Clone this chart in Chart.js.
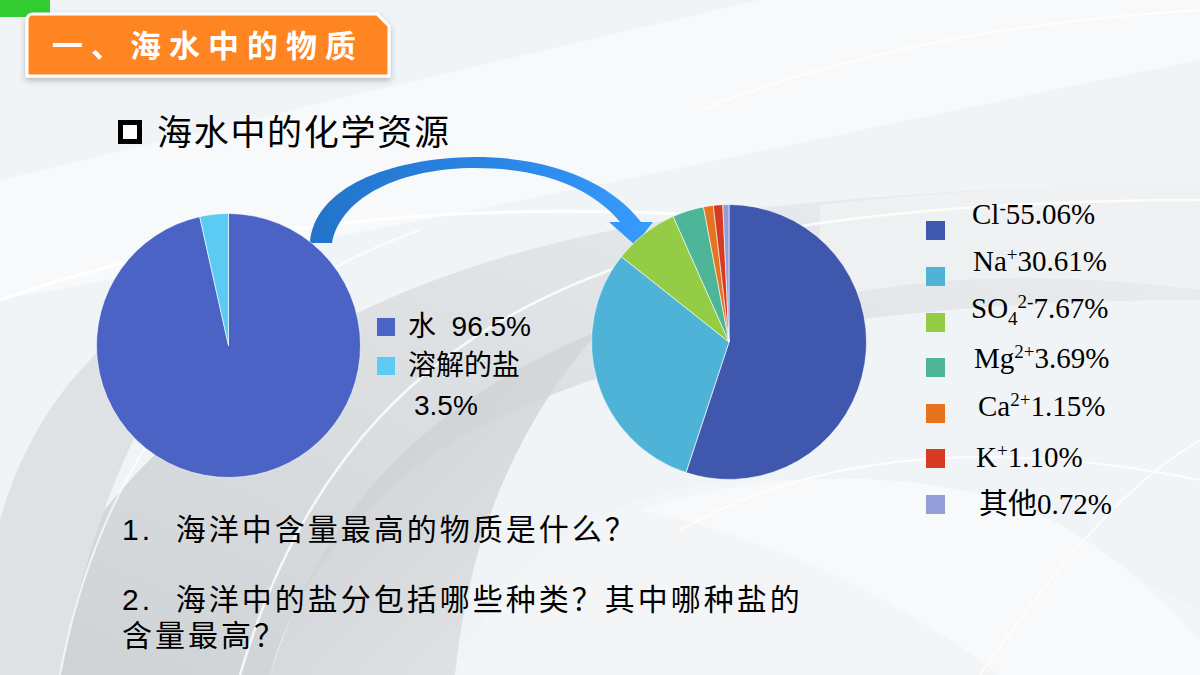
<!DOCTYPE html>
<html>
<head>
<meta charset="utf-8">
<script src="https://cdn.jsdelivr.net/npm/chart.js@4"></script>
<style>
  html, body { margin: 0; padding: 0; }
  body { width: 1200px; height: 675px; position: relative; overflow: hidden; background: #eef1f3;
         font-family: "Liberation Sans", "Noto Sans CJK SC", sans-serif; color: #000; }
  #bg { position: absolute; left: 0; top: 0; }
  .abs { position: absolute; white-space: nowrap; }
  #boxTitle { left: 52px; top: 22px; color: #fff; font: bold 31px "Noto Sans CJK SC"; letter-spacing: 8px; line-height: 44px; }
  #bullet { left: 118px; top: 120px; width: 14px; height: 14px; border: 5px solid #000; background: #fff; }
  #heading { left: 157px; top: 108px; font: 35px "Noto Sans CJK SC"; line-height: 44px; letter-spacing: 1.7px; }
  .q { font-size: 30px; line-height: 36px; letter-spacing: 3px; }
  .sw { position: absolute; width: 19px; height: 19px; }
  .lt { position: absolute; white-space: nowrap; font-size: 28px; line-height: 28px; }
  .rt { position: absolute; white-space: nowrap; font: 29px "Liberation Serif", "Noto Sans CJK SC", serif; line-height: 29px; }
  .rt sup { font-size: 19px; vertical-align: 10px; line-height: 0; }
  .rt sub { font-size: 19px; vertical-align: -7px; line-height: 0; }
  canvas { position: absolute; }
</style>
</head>
<body>
<svg id="bg" width="1200" height="675">
  <defs>
    <linearGradient id="gA" x1="0" y1="1" x2="1" y2="0">
      <stop offset="0" stop-color="#cfd2d5"/>
      <stop offset="0.5" stop-color="#dde0e3"/>
      <stop offset="1" stop-color="#eceef0"/>
    </linearGradient>
    <linearGradient id="gB" x1="0" y1="0" x2="1" y2="1">
      <stop offset="0" stop-color="#c4c7ca"/>
      <stop offset="1" stop-color="#e2e4e6"/>
    </linearGradient>
    <linearGradient id="gArrow" x1="0" y1="0" x2="1" y2="0">
      <stop offset="0" stop-color="#2373c9"/>
      <stop offset="0.55" stop-color="#2a86e6"/>
      <stop offset="1" stop-color="#379cff"/>
    </linearGradient>
    <filter id="sh" x="-10%" y="-10%" width="120%" height="140%">
      <feDropShadow dx="0" dy="3" stdDeviation="3" flood-color="#000" flood-opacity="0.25"/>
    </filter>
  </defs>
  <rect width="1200" height="675" fill="#f1f4f6"/>
  <path d="M0,180 C250,120 500,60 760,0 L1200,0 L1200,60 C900,120 600,190 0,300 Z" fill="#f7f9fa"/>
  <path d="M0,675 C120,430 320,270 700,215 C900,190 1080,185 1200,182 L1200,300 C920,300 640,330 440,450 C340,520 290,600 270,675 Z" fill="url(#gA)"/>
  <path d="M0,520 C40,380 140,280 330,235 C200,300 110,420 60,675 L0,675 Z" fill="#dfe2e5"/>
  <path d="M270,675 C320,520 410,410 600,330 C520,420 470,530 455,675 Z" fill="url(#gB)" opacity="0.85"/>
  <path d="M455,675 C520,520 660,470 820,480 C980,490 1100,560 1200,610 L1200,675 Z" fill="#f3f5f7"/>
  <path d="M640,510 C760,470 900,470 1000,500 C1100,530 1160,600 1200,640 L1200,675 L1000,675 C900,600 780,540 640,510 Z" fill="#ffffff" opacity="0.45"/>
  <path d="M820,300 C950,270 1080,275 1200,290 L1200,182 C1080,185 950,190 820,205 Z" fill="#f0f2f4" opacity="0.8"/>
  <path d="M0,300 C200,230 420,200 700,215" stroke="#ffffff" stroke-width="3" fill="none" opacity="0.9"/>
  <path d="M240,675 C300,470 420,330 640,260 C800,215 1000,200 1200,200" stroke="#ffffff" stroke-width="2.5" fill="none" opacity="0.8"/>
  <path d="M60,675 C100,460 220,300 420,230" stroke="#ffffff" stroke-width="2" fill="none" opacity="0.7"/>
  <path d="M700,110 C880,40 1050,20 1200,10" stroke="#ffffff" stroke-width="2" fill="none" opacity="0.8"/>
  <path d="M680,530 C820,450 1000,440 1200,480" stroke="#ffffff" stroke-width="2" fill="none" opacity="0.8"/>
  <path d="M980,675 C1060,560 1130,480 1200,440" stroke="#ffffff" stroke-width="2" fill="none" opacity="0.7"/>
  <rect x="0" y="0" width="50" height="17" fill="#33cc33"/>
  <path d="M33,14 L377,14 L389,26 L389,76 L27,76 L27,20 Q27,14 33,14 Z" fill="#ff8420" stroke="#ffffff" stroke-width="3" filter="url(#sh)"/>
  <path d="M310,243 C314,188 388,158 475,157 C556,157 613,185 641,222 L653,222 L635,245 L609,222 L620,222 C594,190 545,168 475,168 C402,168 341,196 332,243 Z" fill="url(#gArrow)"/>
</svg>

<div class="abs" id="boxTitle">一、海水中的物质</div>
<div class="abs" id="bullet"></div>
<div class="abs" id="heading">海水中的化学资源</div>

<canvas id="waterPie" width="265" height="265" style="left:96px; top:213px;"></canvas>
<canvas id="saltPie" width="276" height="276" style="left:591px; top:204px;"></canvas>

<div id="leftLegend"></div>
<div id="rightLegend"></div>

<div class="abs q" style="left:122px; top:512px;">1.&nbsp;&nbsp;海洋中含量最高的物质是什么？</div>
<div class="abs q" style="left:122px; top:582px;">2.&nbsp;&nbsp;海洋中的盐分包括哪些种类？其中哪种盐的</div>
<div class="abs q" style="left:122px; top:618px;">含量最高？</div>

<script>
// seawater composition
var waterLabels = ['水', '溶解的盐'];
var waterValues = [96.5, 3.5];
var waterColors = ['#4b63c5', '#5bcbf4'];

// dissolved salt ions
var ionNames = ['Cl', 'Na', 'SO4', 'Mg', 'Ca', 'K', '其他'];
var ionCharges = ['-', '+', '2-', '2+', '2+', '+', ''];
var ionValues = [55.06, 30.61, 7.67, 3.69, 1.15, 1.10, 0.72];
var ionColors = ['#3f58ae', '#4fb3d8', '#94cd45', '#4db598', '#e6731d', '#d63a22', '#959dd9'];

function pieChart(id, labels, values, colors) {
    return new Chart(document.getElementById(id), {
        type: 'pie',
        data: {
            labels: labels,
            datasets: [{
                data: values,
                backgroundColor: colors,
                borderColor: 'rgba(255,255,255,0.6)',
                borderWidth: 1
            }]
        },
        options: {
            responsive: false,
            animation: false,
            layout: { padding: 0 },
            plugins: {
                legend: { display: false },
                tooltip: { enabled: false }
            }
        }
    });
}

pieChart('waterPie', waterLabels, waterValues, waterColors);
pieChart('saltPie', ionNames, ionValues, ionColors);

/*left legend: squares + text*/
var leftBox = document.getElementById('leftLegend');
var leftSwatchTop = [318, 357];
leftSwatchTop.forEach(function (t, i) {
    var s = document.createElement('div');
    s.className = 'sw';
    s.style.left = '377px';
    s.style.top = t + 'px';
    s.style.width = '18px';
    s.style.height = '18px';
    s.style.background = waterColors[i];
    leftBox.appendChild(s);
});
var leftText = [
    [408, 313, waterLabels[0] + '&nbsp;&nbsp;' + waterValues[0] + '%'],
    [408, 352, waterLabels[1]],
    [414, 392, waterValues[1] + '%']
];
leftText.forEach(function (r) {
    var d = document.createElement('div');
    d.className = 'lt';
    d.style.left = r[0] + 'px';
    d.style.top = r[1] + 'px';
    d.innerHTML = r[2];
    leftBox.appendChild(d);
});

/*right legend*/
var rightBox = document.getElementById('rightLegend');
var swatchTops = [221, 267, 313, 358, 404, 449, 495];
var textX = [972, 973, 971, 974, 978, 976, 979];
var baselines = [224, 271, 318, 368, 416, 467, 514];
ionNames.forEach(function (n, i) {
    var s = document.createElement('div');
    s.className = 'sw';
    s.style.left = '926px';
    s.style.top = swatchTops[i] + 'px';
    s.style.background = ionColors[i];
    rightBox.appendChild(s);

    var name = n.replace('4', '<sub>4</sub>');
    var charge = ionCharges[i] ? '<sup>' + ionCharges[i] + '</sup>' : '';
    var d = document.createElement('div');
    d.className = 'rt';
    d.style.left = textX[i] + 'px';
    d.style.top = (baselines[i] - 24) + 'px';
    d.innerHTML = name + charge + ionValues[i].toFixed(2) + '%';
    rightBox.appendChild(d);
});
</script>
</body>
</html>
